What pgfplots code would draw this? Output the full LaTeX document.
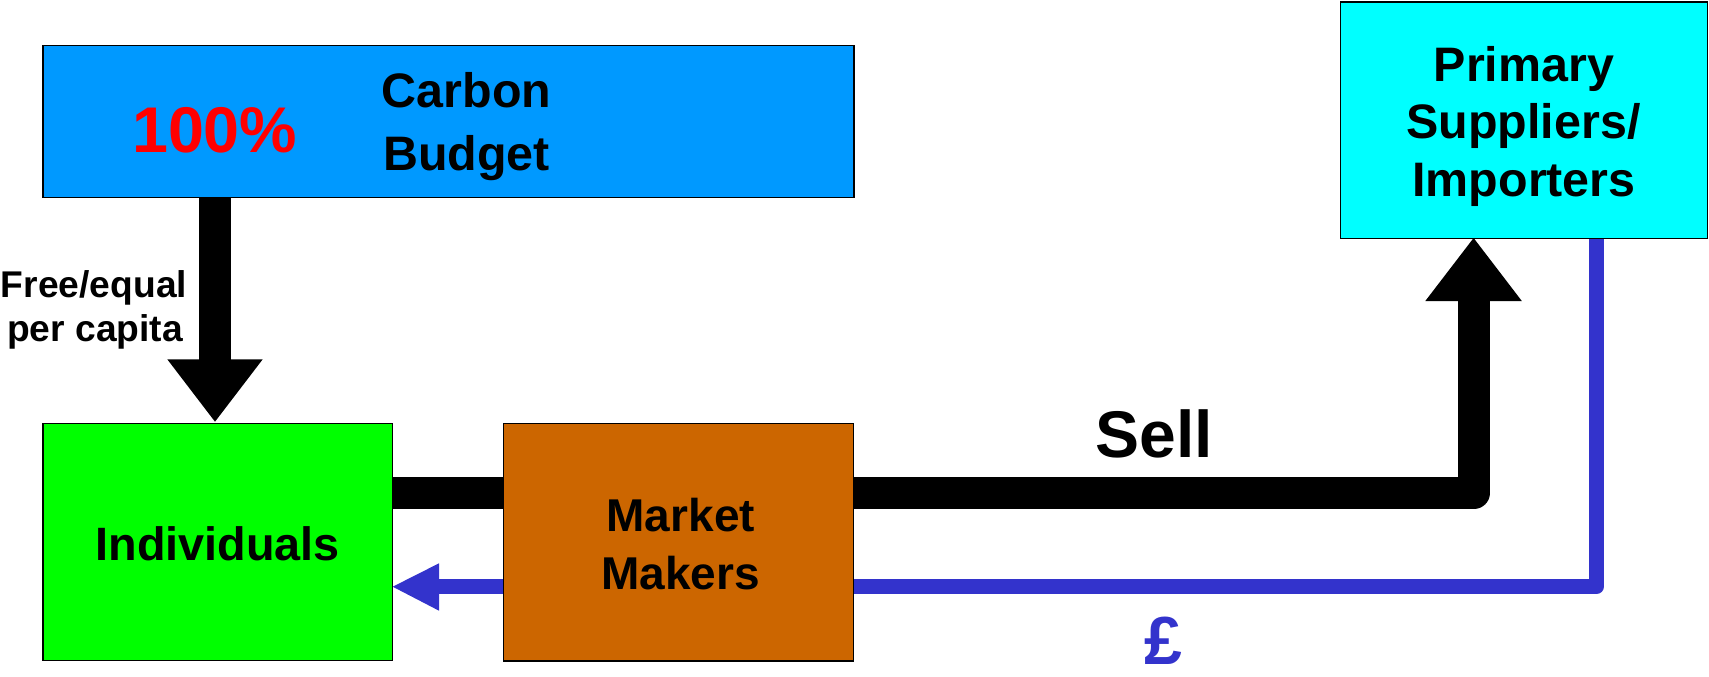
\documentclass[border=0pt]{standalone}
\usepackage{pgfplots}
\pgfplotsset{compat=1.18}
\usepackage{fontspec}
\setmainfont{Liberation Sans}
\definecolor{cbblue}{HTML}{0099FF}
\definecolor{cyanbox}{HTML}{00FFFF}
\definecolor{greenbox}{HTML}{00FF00}
\definecolor{brownbox}{HTML}{CC6600}
\definecolor{flowblue}{HTML}{3333CC}
\definecolor{redtxt}{HTML}{FF0000}
\begin{document}
\begin{tikzpicture}
\begin{axis}[name=ax,
  width=854.5pt, height=338pt, scale only axis,
  xmin=0, xmax=1709, ymin=0, ymax=676, y dir=reverse,
  hide axis, clip=false]
% black flows
\addplot[black, line width=15.85pt] coordinates {(215.2,197) (215.2,360)};
\addplot[fill=black, draw=none] coordinates {(167.3,359.3) (262.7,359.3) (215,421.7)} --cycle;
\addplot[black, line width=15.85pt] coordinates {(392,493.2) (504,493.2)};
\addplot[black, line width=15.85pt, line join=round] coordinates {(852,493.2) (1473.8,493.2) (1473.8,300)};
\addplot[fill=black, draw=none] coordinates {(1425.3,301) (1521.8,301) (1473.6,238)} --cycle;
% blue flows
\addplot[flowblue, line width=7.65pt, line join=round] coordinates {(852,586.5) (1596.5,586.5) (1596.5,238)};
\addplot[flowblue, line width=7.65pt] coordinates {(504,586.5) (438,586.5)};
\addplot[fill=flowblue, draw=none] coordinates {(439,563.3) (439,610.7) (392.7,586.7)} --cycle;
% boxes
\addplot[draw=black, fill=cbblue, line width=0.75pt] coordinates {(43.2,45.5) (853.8,45.5) (853.8,197.5) (43.2,197.5)} --cycle;
\addplot[draw=black, fill=cyanbox, line width=0.75pt] coordinates {(1340.5,2) (1707.5,2) (1707.5,238.5) (1340.5,238.5)} --cycle;
\addplot[draw=black, fill=greenbox, line width=0.75pt] coordinates {(43,423.3) (392.7,423.3) (392.7,660.7) (43,660.7)} --cycle;
\addplot[draw=black, fill=brownbox, line width=0.75pt] coordinates {(503.3,423.3) (853.3,423.3) (853.3,661) (503.3,661)} --cycle;
% texts
\node[anchor=base, inner sep=0pt, text=redtxt, font=\bfseries\fontsize{32.3}{38}\selectfont] at (axis cs:214.7,152.3) {100\%};
\node[anchor=base, inner sep=0pt, font=\bfseries\fontsize{24.2}{29}\selectfont] at (axis cs:466.5,107.7) {Carbon};
\node[anchor=base, inner sep=0pt, font=\bfseries\fontsize{24.2}{29}\selectfont] at (axis cs:466.5,170) {Budget};
\node[anchor=base, inner sep=0pt, font=\bfseries\fontsize{24.2}{29}\selectfont] at (axis cs:1524,81.7) {Primary};
\node[anchor=base, inner sep=0pt, font=\bfseries\fontsize{24.2}{29}\selectfont] at (axis cs:1523.5,138.3) {Suppliers/};
\node[anchor=base, inner sep=0pt, font=\bfseries\fontsize{24.2}{29}\selectfont] at (axis cs:1524,196) {Importers};
\node[anchor=base, inner sep=0pt, font=\bfseries\fontsize{18.6}{22}\selectfont] at (axis cs:94,297.3) {Free/equal};
\node[anchor=base, inner sep=0pt, font=\bfseries\fontsize{18.6}{22}\selectfont] at (axis cs:95,341.7) {per capita};
\node[anchor=base, inner sep=0pt, font=\bfseries\fontsize{23.4}{28}\selectfont] at (axis cs:217.7,560) {Individuals};
\node[anchor=base, inner sep=0pt, font=\bfseries\fontsize{23}{28}\selectfont] at (axis cs:680.8,531) {Market};
\node[anchor=base, inner sep=0pt, font=\bfseries\fontsize{23}{28}\selectfont] at (axis cs:680.8,589) {Makers};
\node[anchor=base, inner sep=0pt, font=\bfseries\fontsize{33}{40}\selectfont] at (axis cs:1154,457.7) {Sell};
\node[anchor=base, inner sep=0pt, text=flowblue, font=\bfseries\fontsize{34}{40}\selectfont] at (axis cs:1163,664) {£};
\end{axis}
\pgfresetboundingbox
\path[use as bounding box] (ax.south west) rectangle (ax.north east);
\end{tikzpicture}
\end{document}
